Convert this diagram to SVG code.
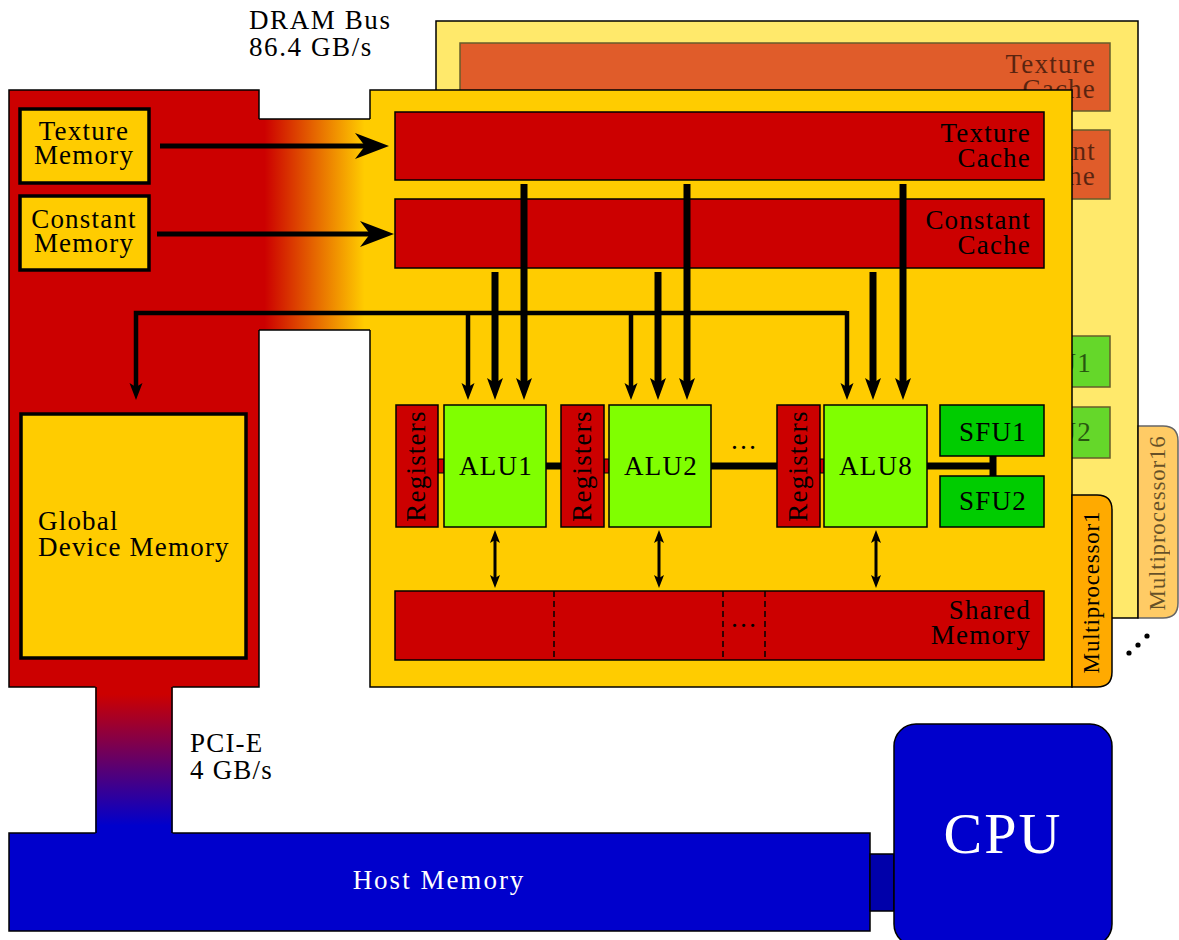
<svg xmlns="http://www.w3.org/2000/svg" width="1179" height="940" viewBox="0 0 1179 940">
<style>
text { font-family: "Liberation Serif", "Times New Roman", serif; font-size: 27px; letter-spacing: 1.2px; fill: #000; }
.o { stroke: #000; stroke-width: 1.5; }
.red { fill: #CC0000; stroke: #000; stroke-width: 1.5; }
.yel { fill: #FFCC00; stroke: #000; stroke-width: 1.5; }
.mem { fill: #FFCC00; stroke: #000; stroke-width: 3.5; }
.alu { fill: #80FF00; stroke: #000; stroke-width: 1.5; }
.sfu { fill: #00CC00; stroke: #000; stroke-width: 1.5; }
.tab { fill: #FFAA00; stroke: #000; stroke-width: 1.5; }
.blue { fill: #0000CC; stroke: #000; stroke-width: 1.5; }
.g { opacity: 0.6; }
.e { text-anchor: end; }
.m { text-anchor: middle; }
.w { fill: #fff; }
.tabt { font-size: 23px; letter-spacing: 0.8px; text-anchor: middle; }
.edge { stroke: #000; stroke-width: 1.5; fill: none; }
.dash { stroke: #000; stroke-width: 1.5; stroke-dasharray: 6 4; }
.a5 { stroke: #000; stroke-width: 5; fill: none; marker-end: url(#mBig); }
.a7 { stroke: #000; stroke-width: 7; fill: none; marker-end: url(#mThick); }
.a4 { stroke: #000; stroke-width: 4.5; fill: none; marker-end: url(#mThin); }
.a3 { stroke: #000; stroke-width: 3; fill: none; marker-start: url(#mDbl); marker-end: url(#mDbl); }
</style>
<defs>
<linearGradient id="gDram" gradientUnits="userSpaceOnUse" x1="259" y1="0" x2="370" y2="0">
<stop offset="0.05" stop-color="#CC0000"/><stop offset="0.95" stop-color="#FFCC00"/>
</linearGradient>
<linearGradient id="gPci" gradientUnits="userSpaceOnUse" x1="0" y1="687" x2="0" y2="833">
<stop offset="0.05" stop-color="#CC0000"/><stop offset="0.95" stop-color="#0000CC"/>
</linearGradient>
<marker id="mBig" markerUnits="userSpaceOnUse" orient="auto" refX="10" refY="0" markerWidth="40" markerHeight="30" overflow="visible">
<path d="M0,-13 L34,0 L0,13 L10,0 Z" fill="#000"/>
</marker>
<marker id="mThick" markerUnits="userSpaceOnUse" orient="auto" refX="5" refY="0" markerWidth="30" markerHeight="20" overflow="visible">
<path d="M0,-8 L22,0 L0,8 L5,0 Z" fill="#000"/>
</marker>
<marker id="mThin" markerUnits="userSpaceOnUse" orient="auto" refX="4" refY="0" markerWidth="20" markerHeight="16" overflow="visible">
<path d="M0,-6.5 L17,0 L0,6.5 L4,0 Z" fill="#000"/>
</marker>
<marker id="mDbl" markerUnits="userSpaceOnUse" orient="auto-start-reverse" refX="3" refY="0" markerWidth="16" markerHeight="12" overflow="visible">
<path d="M0,-5 L13,0 L0,5 L3,0 Z" fill="#000"/>
</marker>
</defs>

<!-- back multiprocessor (Multiprocessor16) -->
<g id="mp16">
<rect x="436" y="21" width="702" height="597" fill="#FFE96B" stroke="#000" stroke-width="1.5"/>
<path class="tab g" d="M1138,426 H1163 Q1178,426 1178,441 V603 Q1178,618 1163,618 H1138 Z"/>
<text class="tabt g" transform="translate(1165,523) rotate(-90)">Multiprocessor16</text>
<rect class="red g" x="460" y="43" width="650" height="68"/>
<text class="e g" x="1096" y="73">Texture</text>
<text class="e g" x="1096" y="98">Cache</text>
<rect class="red g" x="460" y="130" width="650" height="69"/>
<text class="e g" x="1096" y="160">Constant</text>
<text class="e g" x="1096" y="185">Cache</text>
<rect class="sfu g" x="1006" y="336" width="104" height="51"/>
<text class="m g" x="1058" y="372">SFU1</text>
<rect class="sfu g" x="1006" y="407" width="104" height="51"/>
<text class="m g" x="1058" y="441">SFU2</text>
</g>

<!-- device memory region -->
<g id="device">
<rect class="red" x="9" y="90" width="250" height="597"/>
</g>
<g id="host-memory">
<rect class="blue" x="9" y="833" width="861" height="98"/>
<text class="m w" x="439" y="889" style="letter-spacing:2px">Host Memory</text>
</g>
<g id="pcie">
<rect x="95.5" y="686" width="77" height="148" fill="url(#gPci)"/>
<path class="edge" d="M96,687 V833 M172,687 V833"/>
<text x="190" y="752">PCI-E</text>
<text x="190" y="779">4 GB/s</text>
</g>
<g id="cpu-link">
<rect x="870" y="854" width="24" height="57" fill="#0000AA" stroke="#000" stroke-width="1.5"/>
</g>
<g id="cpu">
<rect class="blue" x="894" y="724" width="218" height="222" rx="22"/>
<text class="m w" x="1003" y="853" style="font-size:58px;letter-spacing:2px">CPU</text>
</g>

<!-- front multiprocessor -->
<g id="mp1">
<rect class="yel" x="370" y="90" width="702" height="597"/>
<path class="tab" d="M1072,495 H1097 Q1112,495 1112,510 V672 Q1112,687 1097,687 H1072 Z"/>
<text class="tabt" transform="translate(1099,592) rotate(-90)">Multiprocessor1</text>
</g>
<g id="dram-bus">
<rect x="258" y="119" width="113" height="211" fill="url(#gDram)"/>
<path class="edge" d="M259,119 H370 M259,330 H370"/>
<text x="249" y="29" style="letter-spacing:1.6px">DRAM Bus</text>
<text x="249" y="56" style="letter-spacing:1.6px">86.4 GB/s</text>
</g>

<g id="texture-memory">
<rect class="mem" x="20" y="109" width="129" height="74"/>
<text class="m" x="84" y="140">Texture</text>
<text class="m" x="84" y="164">Memory</text>
</g>
<g id="constant-memory">
<rect class="mem" x="20" y="196" width="129" height="74"/>
<text class="m" x="84" y="228">Constant</text>
<text class="m" x="84" y="252">Memory</text>
</g>
<g id="global-memory">
<rect class="mem" x="21" y="414" width="225" height="244"/>
<text x="38" y="530">Global</text>
<text x="38" y="556">Device Memory</text>
</g>

<g id="texture-cache">
<rect class="red" x="395" y="112" width="649" height="68"/>
<text class="e" x="1031" y="142">Texture</text>
<text class="e" x="1031" y="167">Cache</text>
</g>
<g id="constant-cache">
<rect class="red" x="395" y="199" width="649" height="69"/>
<text class="e" x="1031" y="229">Constant</text>
<text class="e" x="1031" y="254">Cache</text>
</g>

<!-- ALU bus (behind units) -->
<g id="alu-bus">
<path d="M438,466 H993 M993,456 V476" stroke="#000" stroke-width="7" fill="none"/>
<rect class="red" x="438" y="459" width="6" height="14" style="stroke-width:1"/>
<rect class="red" x="604" y="459" width="5" height="14" style="stroke-width:1"/>
<rect class="red" x="820" y="459" width="4" height="14" style="stroke-width:1"/>
<text class="m" x="744" y="449">…</text>
</g>

<g id="registers1">
<rect class="red" x="396" y="405" width="42" height="122"/>
<text class="m" transform="translate(425,466) rotate(-90)">Registers</text>
</g>
<g id="alu1">
<rect class="alu" x="444" y="405" width="102" height="122"/>
<text class="m" x="496" y="475">ALU1</text>
</g>
<g id="registers2">
<rect class="red" x="561" y="405" width="43" height="122"/>
<text class="m" transform="translate(591,466) rotate(-90)">Registers</text>
</g>
<g id="alu2">
<rect class="alu" x="609" y="405" width="102" height="122"/>
<text class="m" x="661" y="475">ALU2</text>
</g>
<g id="registers8">
<rect class="red" x="777" y="405" width="43" height="122"/>
<text class="m" transform="translate(807,466) rotate(-90)">Registers</text>
</g>
<g id="alu8">
<rect class="alu" x="824" y="405" width="103" height="122"/>
<text class="m" x="876" y="475">ALU8</text>
</g>
<g id="sfu1">
<rect class="sfu" x="940" y="405" width="104" height="51"/>
<text class="m" x="993" y="441">SFU1</text>
</g>
<g id="sfu2">
<rect class="sfu" x="940" y="476" width="104" height="51"/>
<text class="m" x="993" y="510">SFU2</text>
</g>

<g id="shared-memory">
<rect class="red" x="395" y="591" width="649" height="69"/>
<path class="dash" d="M554,591 V660 M723,591 V660 M765,591 V660"/>
<text class="m" x="744" y="627">…</text>
<text class="e" x="1031" y="619">Shared</text>
<text class="e" x="1031" y="644">Memory</text>
</g>

<g id="more-dots">
<circle cx="1129" cy="653" r="2.6"/>
<circle cx="1138" cy="645" r="2.6"/>
<circle cx="1147" cy="636" r="2.6"/>
</g>

<!-- connectors -->
<g id="connectors">
<path class="a5" d="M160,146 H365"/>
<path class="a5" d="M157,234 H370"/>
<path class="a4" d="M847,313 H136 V387"/>
<path class="a4" d="M468,313 V387"/>
<path class="a4" d="M631,313 V387"/>
<path class="a4" d="M847,311 V387"/>
<path class="a7" d="M524,184 V383"/>
<path class="a7" d="M687,184 V383"/>
<path class="a7" d="M903,184 V383"/>
<path class="a7" d="M495,272 V383"/>
<path class="a7" d="M658,272 V383"/>
<path class="a7" d="M873,272 V383"/>
<path class="a3" d="M495,540 V578"/>
<path class="a3" d="M659,540 V578"/>
<path class="a3" d="M876,540 V578"/>
</g>
</svg>
